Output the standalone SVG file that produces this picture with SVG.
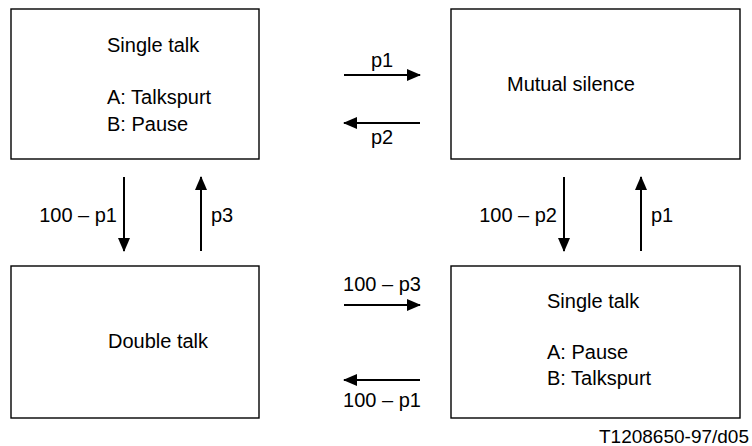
<svg xmlns="http://www.w3.org/2000/svg" width="752" height="446" viewBox="0 0 752 446">
<defs>
<marker id="ah" viewBox="0 0 14 12" refX="13" refY="6" markerWidth="14" markerHeight="12" markerUnits="userSpaceOnUse" orient="auto">
<path d="M0,0 L14,6 L0,12 z" fill="#000"/>
</marker>
<style>
.box{fill:#fff;stroke:#000;stroke-width:1.4}
.t{font-family:"Liberation Sans",Arial,sans-serif;font-size:20px;fill:#000}
.c{stroke:#000;stroke-width:2;fill:none;marker-end:url(#ah)}
</style>
</defs>
<rect width="752" height="446" fill="#fff"/>
<g id="single-talk-a">
<rect class="box" x="11" y="9" width="248" height="150"/>
<text class="t" x="107" y="52">Single talk</text>
<text class="t" x="107" y="104">A: Talkspurt</text>
<text class="t" x="107" y="131">B: Pause</text>
</g>
<g id="mutual-silence">
<rect class="box" x="451" y="9" width="289" height="150"/>
<text class="t" x="507" y="91">Mutual silence</text>
</g>
<g id="double-talk">
<rect class="box" x="11" y="266" width="248" height="152"/>
<text class="t" x="108" y="348">Double talk</text>
</g>
<g id="single-talk-b">
<rect class="box" x="451" y="266" width="289" height="152"/>
<text class="t" x="547" y="308">Single talk</text>
<text class="t" x="547" y="359">A: Pause</text>
<text class="t" x="547" y="385">B: Talkspurt</text>
</g>
<g id="connectors">
<line class="c" x1="344" y1="75" x2="420" y2="75"/>
<text class="t" x="382" y="67" text-anchor="middle">p1</text>
<line class="c" x1="420" y1="123" x2="344" y2="123"/>
<text class="t" x="382" y="144" text-anchor="middle">p2</text>
<line class="c" x1="124" y1="177" x2="124" y2="251"/>
<text class="t" x="117" y="222" text-anchor="end">100 – p1</text>
<line class="c" x1="201" y1="251" x2="201" y2="177"/>
<text class="t" x="211" y="222">p3</text>
<line class="c" x1="564" y1="177" x2="564" y2="251"/>
<text class="t" x="557" y="222" text-anchor="end">100 – p2</text>
<line class="c" x1="641" y1="251" x2="641" y2="177"/>
<text class="t" x="651" y="222">p1</text>
<line class="c" x1="344" y1="305" x2="420" y2="305"/>
<text class="t" x="382" y="291" text-anchor="middle">100 – p3</text>
<line class="c" x1="420" y1="380" x2="344" y2="380"/>
<text class="t" x="382" y="407" text-anchor="middle">100 – p1</text>
</g>
<text class="t" x="749" y="443" text-anchor="end" style="font-size:19px">T1208650-97/d05</text>
</svg>
